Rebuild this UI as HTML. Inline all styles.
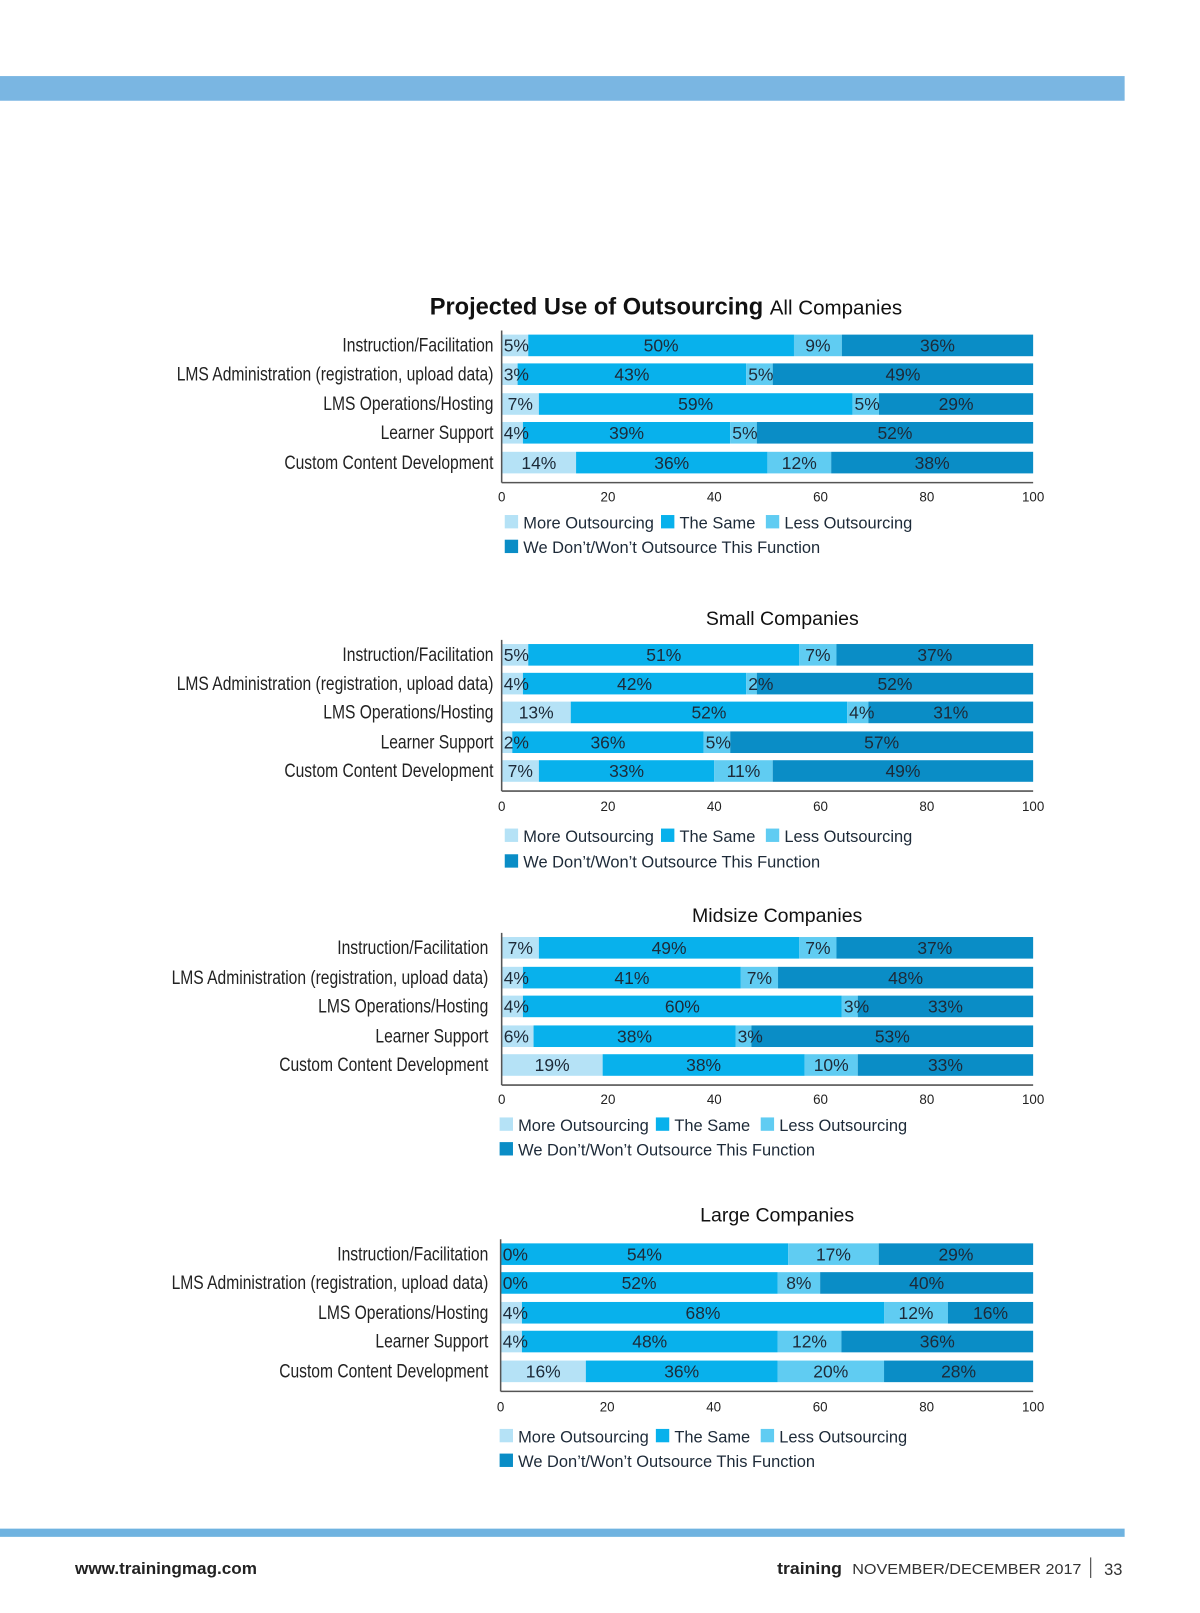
<!DOCTYPE html>
<html><head><meta charset="utf-8"><style>
html,body{margin:0;padding:0;background:#fff;}
svg{display:block;font-family:"Liberation Sans",sans-serif;}
.cat{font-family:"Liberation Sans Narrow","Liberation Sans",sans-serif;font-size:19px;fill:#222;}
</style></head><body>
<svg id="s" width="1200" height="1613" viewBox="0 0 1200 1613" xmlns="http://www.w3.org/2000/svg">
<g id="root" transform="scale(1.028)">
<rect x="0" y="74" width="1094" height="24" fill="#7ab6e2"/>
<rect x="0" y="1487" width="1094" height="8" fill="#6fb3e0"/>
<text x="73" y="1531" font-size="16" font-weight="bold" fill="#222" textLength="177" lengthAdjust="spacingAndGlyphs">www.trainingmag.com</text>
<text x="756" y="1531" font-size="16" font-weight="bold" fill="#222" textLength="63" lengthAdjust="spacingAndGlyphs">training</text>
<text x="829" y="1531" font-size="14" fill="#333" textLength="223" lengthAdjust="spacingAndGlyphs">NOVEMBER/DECEMBER 2017</text>
<line x1="1061" y1="1515" x2="1061" y2="1535" stroke="#333" stroke-width="1"/>
<text x="1074" y="1532" font-size="16" fill="#333">33</text>
</g>
</svg>
<script>
const categories=["Instruction/Facilitation","LMS Administration (registration, upload data)","LMS Operations/Hosting","Learner Support","Custom Content Development"];
const seriesNames=["More Outsourcing","The Same","Less Outsourcing","We Don’t/Won’t Outsource This Function"];
const ticks=[0,20,40,60,80,100];
const allValues=[[5,50,9,36],[3,43,5,49],[7,59,5,29],[4,39,5,52],[14,36,12,38]];
const smallValues=[[5,51,7,37],[4,42,2,52],[13,52,4,31],[2,36,5,57],[7,33,11,49]];
const midValues=[[7,49,7,37],[4,41,7,48],[4,60,3,33],[6,38,3,53],[19,38,10,33]];
const largeValues=[[0,54,17,29],[0,52,8,40],[4,68,12,16],[4,48,12,36],[16,36,20,28]];
const colors=["#b5e2f6","#08b1ec","#60ccf2","#0a8dc6"];
const NS="http://www.w3.org/2000/svg";
const svg=document.getElementById('root');
function el(tag,attrs,parent){const e=document.createElementNS(NS,tag);for(const k in attrs)e.setAttribute(k,attrs[k]);(parent||svg).appendChild(e);return e;}
const charts=[
 {name:"all",data:allValues,title:"All Companies",main:true,titleY:306,rowY:[336,364,393,421,450],x0:488,labelX:480,tickY:488,legY:[508,532],legX:491},
 {name:"small",data:smallValues,title:"Small Companies",titleY:608,titleCx:761,rowY:[637,665,693,722,750],x0:488,labelX:480,tickY:789,legY:[813,838],legX:491},
 {name:"midsize",data:midValues,title:"Midsize Companies",titleY:897,titleCx:756,rowY:[922,951,979,1008,1036],x0:488,labelX:475,tickY:1074,legY:[1094,1118],legX:486},
 {name:"large",data:largeValues,title:"Large Companies",titleY:1188,titleCx:756,rowY:[1220,1248,1277,1305,1334],x0:487,labelX:475,tickY:1373,legY:[1397,1421],legX:486}
];
charts.forEach(c=>{
 const g=el('g',{});
 
 
 const x1=1005;
 const xs=v=>c.x0+(x1-c.x0)*Math.min(v,100)/100;
 if(c.main){
  const t=el('text',{x:418,y:c.titleY,'font-size':23,fill:'#111'},g);
  
  
  const a=el('tspan',{'font-weight':'bold'},t);a.textContent="Projected Use of Outsourcing ";
  const b=el('tspan',{'font-size':20},t);b.textContent=c.title;
 }else{
  const t=el('text',{x:c.titleCx,y:c.titleY,'font-size':19,fill:'#111','text-anchor':'middle'},g);
  
  
  t.textContent=c.title;
 }
 const bh=21;
 const labels=[];
 c.data.forEach((row,i)=>{
  const cy=c.rowY[i];
  const lab=el('text',{x:c.labelX,y:cy+6,'text-anchor':'end','class':'cat'},g);
  
  
  lab.textContent=categories[i];
  const w0=lab.getComputedTextLength();
  lab.setAttribute('textLength',(w0*0.8).toFixed(1));
  lab.setAttribute('lengthAdjust','spacingAndGlyphs');
  let cum=0;
  row.forEach((v,j)=>{
   const a=xs(cum);cum+=v;const b=(j===row.length-1)?x1:xs(cum);
   const r=el('rect',{x:a,y:cy-bh/2,width:Math.max(0,b-a),height:bh,fill:colors[j]},g);
   
   
   labels.push({a,b,cy,v});
  });
 });
 labels.forEach(L=>{
  const w=L.b-L.a;
  let tx,anchor;
  if(w<34){tx=L.a+2;anchor='start';}else{tx=(L.a+L.b)/2;anchor='middle';}
  const t=el('text',{x:tx,y:L.cy+6,'font-size':17,fill:'#1d2a38','text-anchor':anchor},g);
  
  
  t.textContent=L.v+'%';
 });
 const axT=c.rowY[0]-bh/2-4, axB=c.rowY[4]+bh/2+9;
 const ay=el('line',{x1:c.x0,y1:axT,x2:c.x0,y2:axB,stroke:'#555','stroke-width':1.5},g);
 
 
 const ax=el('line',{x1:c.x0,y1:axB,x2:x1,y2:axB,stroke:'#555','stroke-width':1.5},g);
 
 
 ticks.forEach(tv=>{
  const t=el('text',{x:xs(tv),y:c.tickY,'font-size':13,fill:'#222','text-anchor':'middle'},g);
  
  
  t.textContent=tv;
 });
 const legPos=[[c.legX,c.legY[0]],[c.legX+152,c.legY[0]],[c.legX+254,c.legY[0]],[c.legX,c.legY[1]]];
 seriesNames.forEach((n,j)=>{
  const [lx,ly]=legPos[j];
  const sq=el('rect',{x:lx,y:ly-7,width:13,height:13,fill:colors[j]},g);
  
  
  const t=el('text',{x:lx+18,y:ly+6,'font-size':16,fill:'#1d2a38'},g);
  
  
  t.textContent=n;
 });
});
</script>
</body></html>
